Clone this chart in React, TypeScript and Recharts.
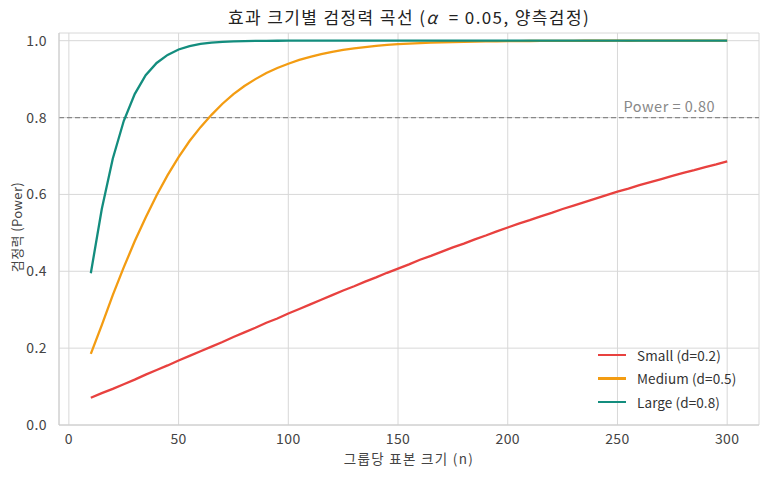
import React from 'react';
import {
  LineChart, Line, XAxis, YAxis, CartesianGrid, ReferenceLine,
} from 'recharts';

const sampleSizes = [
  10, 15, 20, 25, 30, 35, 40, 45, 50, 55, 60, 65, 70, 75, 80, 85, 90, 95, 100,
  105, 110, 115, 120, 125, 130, 135, 140, 145, 150, 155, 160, 165, 170, 175, 180,
  185, 190, 195, 200, 205, 210, 215, 220, 225, 230, 235, 240, 245, 250, 255, 260,
  265, 270, 275, 280, 285, 290, 295, 300,
];

const smallPower = [
  0.071, 0.083, 0.094, 0.106, 0.118, 0.131, 0.143, 0.155, 0.168, 0.18, 0.192, 0.204,
  0.216, 0.229, 0.241, 0.253, 0.266, 0.277, 0.29, 0.302, 0.314, 0.326, 0.338, 0.35,
  0.361, 0.373, 0.384, 0.396, 0.407, 0.418, 0.43, 0.44, 0.451, 0.462, 0.472, 0.483,
  0.493, 0.504, 0.514, 0.524, 0.533, 0.543, 0.552, 0.562, 0.571, 0.58, 0.589, 0.598,
  0.607, 0.615, 0.624, 0.632, 0.64, 0.648, 0.656, 0.663, 0.671, 0.678, 0.686,
];

const mediumPower = [
  0.185, 0.26, 0.338, 0.41, 0.478, 0.54, 0.598, 0.65, 0.697, 0.739, 0.775, 0.807,
  0.836, 0.861, 0.882, 0.9, 0.916, 0.929, 0.94, 0.95, 0.958, 0.965, 0.971, 0.976,
  0.98, 0.9835, 0.9866, 0.989, 0.991, 0.9925, 0.9939, 0.995, 0.9959, 0.9966, 0.9972,
  0.9978, 0.9982, 0.9985, 0.9988, 0.999, 0.9992, 0.9994, 0.9995, 0.9996, 0.9997,
  0.9998, 0.9998, 0.9998, 0.9999, 0.9999, 1, 1, 1, 1, 1, 1, 1, 1, 1,
];

const largePower = [
  0.395, 0.562, 0.693, 0.791, 0.861, 0.91, 0.942, 0.963, 0.977, 0.986, 0.9915, 0.995,
  0.997, 0.998, 0.9989, 0.9994, 0.9996, 0.9998, 0.9999, 1, 1, 1, 1, 1, 1, 1, 1, 1, 1,
  1, 1, 1, 1, 1, 1, 1, 1, 1, 1, 1, 1, 1, 1, 1, 1, 1, 1, 1, 1, 1, 1, 1, 1, 1, 1, 1, 1,
  1, 1,
];

const xTicks = [0, 50, 100, 150, 200, 250, 300];
const yTicks = [0, 0.2, 0.4, 0.6, 0.8, 1.0];

const seriesInfo = [
  { key: 'small', name: 'Small (d=0.2)', color: '#e8413f' },
  { key: 'medium', name: 'Medium (d=0.5)', color: '#f39c12' },
  { key: 'large', name: 'Large (d=0.8)', color: '#138d7e' },
];

const data = sampleSizes.map((n, i) => ({
  n,
  small: smallPower[i],
  medium: mediumPower[i],
  large: largePower[i],
}));

const FONT = '"Noto Sans CJK KR", "Noto Sans", sans-serif';

export default function App() {
  return (
    <div style={{ position: 'absolute', left: 0, top: 0, width: 768, height: 477, background: '#fff', fontFamily: FONT }}>
      <LineChart width={768} height={477} data={data} margin={{ top: 33, right: 9, bottom: 22, left: 0 }}>
        <CartesianGrid stroke="#d8d8d8" strokeWidth={1} />
        <XAxis
          dataKey="n"
          type="number"
          domain={[-4.5, 314.5]}
          ticks={xTicks}
          allowDataOverflow
          height={30}
          tickLine={false}
          axisLine={{ stroke: '#cccccc' }}
          tick={{ fill: '#444', fontSize: 14, fontFamily: FONT, letterSpacing: 0.4 }}
          tickMargin={3}
        />
        <YAxis
          type="number"
          domain={[0, 1.02]}
          ticks={yTicks}
          allowDataOverflow
          width={59}
          tickLine={false}
          axisLine={{ stroke: '#cccccc' }}
          tick={{ fill: '#444', fontSize: 14, fontFamily: FONT, letterSpacing: 0.4 }}
          tickFormatter={(v: number) => v.toFixed(1)}
          tickMargin={6}
        />
        <ReferenceLine
          y={0.8}
          stroke="#888"
          strokeDasharray="5 3"
          strokeWidth={1.3}
          label={{ value: 'Power = 0.80', position: 'insideTopRight', fill: '#888', fontSize: 14.5, fontFamily: FONT, letterSpacing: 0.5, dy: -21, dx: -39 }}
        />
        {seriesInfo.map((s) => (
          <Line
            key={s.key}
            type="linear"
            dataKey={s.key}
            name={s.name}
            stroke={s.color}
            strokeWidth={2.3}
            dot={false}
            isAnimationActive={false}
          />
        ))}
      </LineChart>
      <div style={{ position: 'absolute', left: 59, width: 700, top: 4, textAlign: 'center', fontSize: 17, letterSpacing: 1.4, color: '#222' }}>
        효과 크기별 검정력 곡선 (<i>α</i>&nbsp; = 0.05, 양측검정)
      </div>
      <div
        style={{
          position: 'absolute', left: 16, top: 227, transform: 'translate(-50%, -50%) rotate(-90deg)',
          fontSize: 13, letterSpacing: 0.4, color: '#444', whiteSpace: 'nowrap',
        }}
      >
        검정력 (Power)
      </div>
      <div style={{ position: 'absolute', left: 59, width: 700, top: 448, textAlign: 'center', fontSize: 13.5, letterSpacing: 1.3, color: '#444' }}>
        그룹당 표본 크기 (n)
      </div>
      <div style={{ position: 'absolute', left: 598, top: 343, fontSize: 13.5, letterSpacing: 0.1, color: '#333' }}>
        {seriesInfo.map((s) => (
          <div key={s.key} style={{ display: 'flex', alignItems: 'center', height: 23.5 }}>
            <span style={{ display: 'inline-block', width: 28, height: 2.5, background: s.color, marginRight: 11 }} />
            <span>{s.name}</span>
          </div>
        ))}
      </div>
    </div>
  );
}
